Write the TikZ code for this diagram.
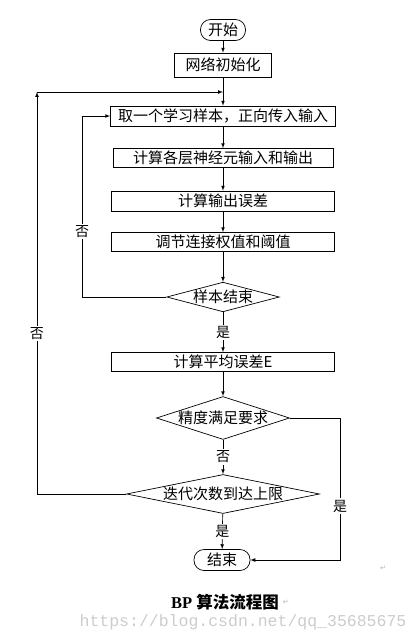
\documentclass[tikz,border=0pt]{standalone}
\usepackage{fontspec}
\setmainfont{Liberation Serif}
\setmonofont{Liberation Mono}
\newfontfamily\cjk{Noto Sans CJK SC}
\newfontfamily\symb{DejaVu Sans}
\usetikzlibrary{arrows,shapes.geometric}

\begin{document}
\begin{tikzpicture}[x=1pt,y=-1pt,line width=0.7pt,
	proc/.style={draw,rectangle,inner sep=0pt,minimum width=#1,minimum height=20pt,font=\cjk\fontsize{15}{15}\selectfont},
	term/.style={draw,rectangle,rounded corners=10pt,inner sep=0pt,minimum width=#1,minimum height=21pt,font=\cjk\fontsize{15}{15}\selectfont},
	decide/.style={draw,diamond,inner sep=0pt,font=\cjk\fontsize{15}{15}\selectfont},
	lbl/.style={fill=white,inner sep=1.5pt,font=\cjk\fontsize{14}{14}\selectfont}]
	\useasboundingbox (0,0) rectangle (420,643);
	% flow
	\node[term=45pt] (start) at (223,30) {开始};
	\node[proc=97pt,minimum height=24pt] (init) at (223,65) {网络初始化};
	\node[proc=225pt] (sample) at (223,116) {取一个学习样本，正向传入输入};
	\node[proc=220pt,minimum height=19pt] (layer) at (223,158) {计算各层神经元输入和输出};
	\node[proc=223pt] (outerr) at (223,201) {计算输出误差};
	\node[proc=223pt,minimum height=19pt] (adjust) at (223,242) {调节连接权值和阈值};
	\node[decide,minimum width=110pt,minimum height=29pt,aspect=3.8] (sampend) at (223,297) {样本结束};
	\node[proc=223pt,minimum height=19pt] (avgerr) at (223,362) {计算平均误差E};
	\node[decide,minimum width=132pt,minimum height=42pt,aspect=3.1] (prec) at (223,418) {精度满足要求};
	\node[decide,minimum width=193pt,minimum height=39pt,aspect=4.9] (iter) at (223,494) {迭代次数到达上限};
	\node[term=56pt] (stop) at (222,560) {结束};
	% corners
	\coordinate (outerlow) at (37,494);
	\coordinate (outertop) at (37,92);
	\coordinate (outerjoin) at (223,92);
	\coordinate (innerlow) at (82,297);
	\coordinate (innertop) at (82,116);
	\coordinate (rightup) at (340,418);
	\coordinate (rightlow) at (340,560);
	% connectors
	\draw[-latex] (start) -- (init);
	\draw[-latex] (init) -- (sample);
	\draw[-latex] (sample) -- (layer);
	\draw[-latex] (layer) -- (outerr);
	\draw[-latex] (outerr) -- (adjust);
	\draw[-latex] (adjust) -- (sampend);
	\draw[-latex] (sampend) -- node[lbl] {是} (avgerr);
	\draw[-latex] (avgerr) -- (prec);
	\draw[-latex] (prec) -- node[lbl] {否} (iter);
	\draw[-latex] (iter) -- node[lbl] {是} (stop);
	\draw[-latex] (sampend.west) -- (innerlow) -- node[lbl,pos=0.36] {否} (innertop) -- (sample.west);
	\draw[-latex] (iter.west) -- (outerlow) -- node[lbl,pos=0.4] {否} (outertop);
	\draw[-latex] (outertop) -- (outerjoin);
	\draw[-latex] (prec.east) -- (rightup) -- node[lbl,pos=0.62] {是} (rightlow) -- (stop.east);
	% caption
	\node[font=\fontsize{16.5}{16.5}\selectfont] (caption) at (225,602) {\textbf{BP} {\cjk\bfseries 算法流程图}};
	\node[gray!60,font=\symb\fontsize{7}{7}\selectfont,inner sep=0pt] (ret1) at (383,568) {↵};
	\node[gray!60,font=\symb\fontsize{7}{7}\selectfont,inner sep=0pt,right=0pt] (ret2) at (caption.east) {↵};
	\node[gray!40,font=\ttfamily\fontsize{16.5}{16.5}\selectfont,inner sep=0pt] (wmark) at (243,622) {https://blog.csdn.net/qq\_35685675};
\end{tikzpicture}
\end{document}
